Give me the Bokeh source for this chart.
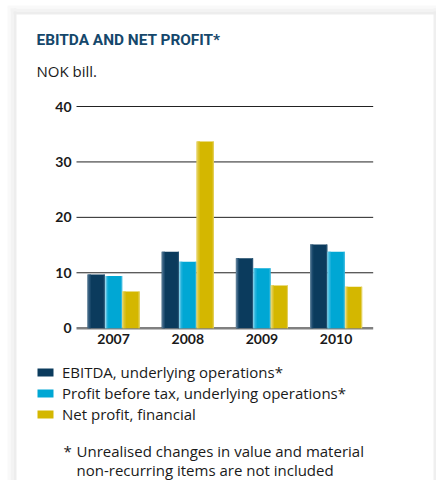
from bokeh.plotting import figure
from bokeh.models import (Range1d, ColumnDataSource, Label, Legend, LegendItem,
                          BoxAnnotation)
from bokeh.core.properties import value
from bokeh.transform import dodge
from bokeh.embed import file_html
from bokeh.resources import INLINE

# ---- data ----
years = ["2007", "2008", "2009", "2010"]
ebitda = [9.7, 13.8, 12.6, 15.1]
pbt = [9.4, 12.0, 10.8, 13.8]
net = [6.6, 33.7, 7.7, 7.5]
y_ticks = [0, 10, 20, 30, 40]
y_tick_labels = ["0", "10", "20", "30", "40"]
series_names = ["EBITDA, underlying operations*",
                "Profit before tax, underlying operations*",
                "Net profit, financial"]
title_text = "EBITDA AND NET PROFIT*"
unit_text = "NOK bill."
footnote_lines = ["Unrealised changes in value and material",
                  "non-recurring items are not included"]

# ---- geometry (pixels on the canvas) ----
WIDTH, HEIGHT = 436, 480
PLOT_L, PLOT_R = 76.0, 372.7      # category area, canvas x
Y0_PX, Y40_PX = 327.7, 106.0      # canvas y of value 0 and value 40
ncat = len(years)
ppx = (PLOT_R - PLOT_L) / ncat
ppy = (Y0_PX - Y40_PX) / 40.0
x_range = Range1d(-PLOT_L / ppx, (WIDTH - PLOT_L) / ppx)
y_range = Range1d(-(HEIGHT - Y0_PX) / ppy, Y0_PX / ppy)

TXT = "#1a1a1a"
FONT = "Open Sans"

p = figure(width=WIDTH, height=HEIGHT, x_range=x_range, y_range=y_range,
           x_axis_type=None, y_axis_type=None, output_backend="svg",
           toolbar_location=None, min_border=0)
p.min_border_left = p.min_border_right = p.min_border_top = p.min_border_bottom = 0
p.outline_line_color = None
p.background_fill_color = "white"
p.border_fill_color = "white"

# card shadow strips (card: x 16..433, y from 14 down)
for l, r, c in [(7, 10, "#f9f9f9"), (10, 13, "#f3f3f3"), (13, 16, "#ededed"),
                (433, 436, "#efefef")]:
    p.add_layout(BoxAnnotation(left=l, right=r, left_units="screen", right_units="screen",
                               bottom=0, top=HEIGHT - 6, bottom_units="screen",
                               top_units="screen",
                               fill_color=c, fill_alpha=1, line_color=None))
for t, b, c in [(5, 8, "#f9f9f9"), (8, 11, "#f3f3f3"), (11, 14, "#ededed")]:
    p.add_layout(BoxAnnotation(top=HEIGHT - t, bottom=HEIGHT - b, left=7 + (t - 5),
                               right=WIDTH, left_units="screen", right_units="screen",
                               bottom_units="screen", top_units="screen",
                               fill_color=c, fill_alpha=1, line_color=None))
p.add_layout(BoxAnnotation(top=HEIGHT - 14, bottom=0, left=16, right=433,
                           left_units="screen", right_units="screen",
                           bottom_units="screen", top_units="screen",
                           fill_color="white", fill_alpha=1, line_color=None,
                           level="underlay"))

# ---- grid lines ----
grid_src = ColumnDataSource(dict(y=y_ticks[1:], x0=[0] * (len(y_ticks) - 1),
                                 x1=[ncat] * (len(y_ticks) - 1)))
p.segment(x0="x0", x1="x1", y0="y", y1="y", source=grid_src,
          line_color="#222222", line_width=1)
p.segment(x0=[0], x1=[ncat], y0=[y_ticks[0]], y1=[y_ticks[0]],
          line_color="#808080", line_width=2.5)

# ---- bars ----
source = ColumnDataSource(dict(xc=[i + 0.5 for i in range(ncat)], years=years,
                               ebitda=ebitda, pbt=pbt, net=net))
W = 0.232
offsets = [-0.235, 0.0, 0.235]
fields = ["ebitda", "pbt", "net"]
main_colors = ["#0b3b5d", "#00a7d4", "#d4b700"]
edge_colors = [["#5d7f98", "#3a6283", "#1d4c6e"],
               ["#8fd6ee", "#55c3e6", "#22b2dc"],
               ["#ecdc85", "#e2cc4a", "#d9c020"]]
right_edge = ["#2a5575", "#3ab9e0", "#e4d160"]
renderers = []
for f, off, mc, ec, rc in zip(fields, offsets, main_colors, edge_colors, right_edge):
    r = p.vbar(x=dodge("xc", off), top=f, bottom=0, width=W,
               source=source, fill_color=mc, line_color=None)
    renderers.append(r)
    sw = W / 16
    for i, c in enumerate(ec):
        p.vbar(x=dodge("xc", off - W / 2 + sw * (i + 0.5)), top=f, bottom=0,
               width=sw * 1.02, source=source, fill_color=c, line_color=None)
    p.vbar(x=dodge("xc", off + W / 2 - sw * 0.5), top=f, bottom=0, width=sw,
           source=source, fill_color=rc, line_color=None)

# ---- axis labels ----
p.text(x=[0] * len(y_ticks), y=y_ticks, text=y_tick_labels, x_offset=-5,
       text_align="right", text_baseline="middle", text_font=value("Lato"),
       text_font_style="bold", text_font_size="14px", text_color=TXT)
p.text(x="xc", y=0, text="years", source=source, y_offset=10.5,
       text_align="center", text_baseline="middle", text_font=value("Lato"),
       text_font_style="bold", text_font_size="14px", text_color=TXT)

# ---- legend ----
items = [LegendItem(label=n, renderers=[r]) for n, r in zip(series_names, renderers)]
legend = Legend(items=items, location=(35, HEIGHT - 424), orientation="vertical",
                glyph_width=20, glyph_height=10, label_standoff=7, spacing=1,
                label_height=18, padding=0, margin=0, border_line_color=None,
                background_fill_alpha=0, label_text_font=FONT,
                label_text_font_size="15px", label_text_color=TXT)
p.add_layout(legend, "center")

# ---- texts ----
p.add_layout(Label(x=36, y=HEIGHT - 39.5, x_units="screen", y_units="screen",
                   text=title_text, text_baseline="middle", text_font="Roboto",
                   text_font_style="bold", text_font_size="15.4px",
                   text_color="#15476b"))
p.add_layout(Label(x=36, y=HEIGHT - 70.5, x_units="screen", y_units="screen",
                   text=unit_text, text_baseline="middle", text_font=FONT,
                   text_font_size="15px", text_color=TXT))
p.add_layout(Label(x=63, y=HEIGHT - 450.5, x_units="screen", y_units="screen", text="*",
                   text_baseline="middle", text_font=FONT,
                   text_font_size="15px", text_color=TXT))
for i, line in enumerate(footnote_lines):
    p.add_layout(Label(x=76, y=HEIGHT - 450.5 - 19 * i, x_units="screen",
                       y_units="screen", text=line, text_baseline="middle",
                       text_font=FONT, text_font_size="15px", text_color=TXT))

open("out.html", "w").write(file_html(p, INLINE))
